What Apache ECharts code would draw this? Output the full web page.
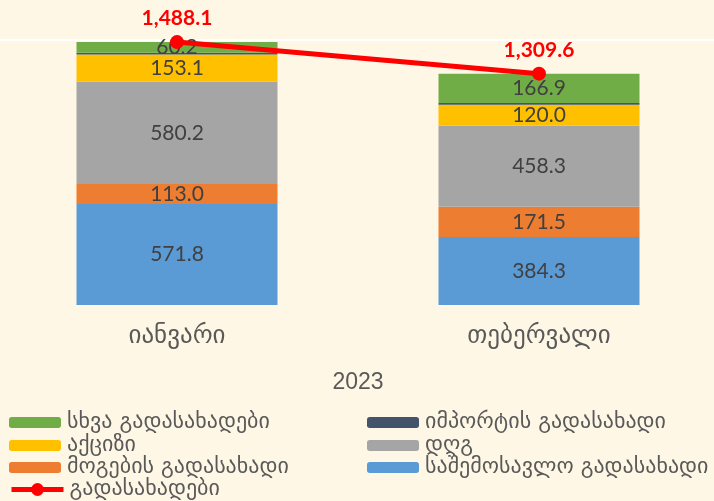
<!DOCTYPE html>
<html>
<head>
<meta charset="utf-8">
<script src="https://cdn.jsdelivr.net/npm/echarts@6/dist/echarts.min.js"></script>
<style>
  html, body { margin: 0; padding: 0; background: #FFF7E5; }
  #main { width: 714px; height: 501px; }
</style>
</head>
<body>
<div id="main"></div>
<script>
var months = ["იანვარი", "თებერვალი"];
var incomeTax = [571.8, 384.3];
var profitTax = [113.0, 171.5];
var vat = [580.2, 458.3];
var excise = [153.1, 120.0];
var importTax = [9.8, 8.6];
var otherTax = [60.2, 166.9];
var totalTax = [1488.1, 1309.6];

var geoFont = "DejaVu Sans";
var numFont = "Lato";

// stacked bar helper
function barSeries(name, data, color, showLabel) {
    return {
        name: name,
        type: "bar",
        stack: "taxes",
        barWidth: 201,
        data: data,
        itemStyle: { color: color },
        label: {
            show: showLabel,
            position: "inside",
            color: "#404040",
            fontSize: 21,
            fontFamily: numFont,
            formatter: function (p) { return p.value.toFixed(1); }
        }
    };
}

// one legend box per entry so the rows sit where the reference has them
function legendItem(entry, left, centerY, iconH) {
    return {
        left: left,
        top: centerY - 11,
        itemWidth: 52,
        itemHeight: iconH || 11,
        itemGap: 0,
        textStyle: { color: "#595959", fontSize: 22, fontFamily: geoFont, lineHeight: 22, padding: [0, 0, 0, 1] },
        data: [entry]
    };
}

var option = {
    backgroundColor: "#FFF7E5",
    animation: false,
    grid: { left: -4, right: -6, top: 40, bottom: 196, outerBoundsMode: "none" },
    xAxis: {
        type: "category",
        data: months,
        axisLine: { show: false },
        axisTick: { show: false },
        axisLabel: { color: "#595959", fontSize: 25, fontFamily: geoFont, margin: 19 },
        name: "2023",
        nameLocation: "middle",
        nameGap: 66,
        nameTextStyle: { color: "#595959", fontSize: 23, fontFamily: "Liberation Sans" }
    },
    yAxis: {
        type: "value",
        min: 0,
        max: 1500,
        interval: 1500,
        axisLine: { show: false },
        axisTick: { show: false },
        axisLabel: { show: false },
        splitLine: { show: true, showMinLine: false, lineStyle: { color: "#FFFFFF", width: 2 } }
    },
    legend: [
        legendItem("სხვა გადასახადები", 4, 417.5),
        legendItem("აქციზი", 4, 440.5),
        legendItem("მოგების გადასახადი", 4, 462.5),
        legendItem({ name: "გადასახადები", lineStyle: { width: 5 }, itemStyle: { color: "#FF0000" } }, 4, 484.5, 16),
        legendItem("იმპორტის გადასახადი", 362, 417.5),
        legendItem("დღგ", 362, 440.5),
        legendItem("საშემოსავლო გადასახადი", 362, 462.5)
    ],
    series: [
        barSeries("საშემოსავლო გადასახადი", incomeTax, "#5B9BD5", true),
        barSeries("მოგების გადასახადი", profitTax, "#ED7D31", true),
        barSeries("დღგ", vat, "#A5A5A5", true),
        barSeries("აქციზი", excise, "#FFC000", true),
        barSeries("იმპორტის გადასახადი", importTax, "#44546A", false),
        barSeries("სხვა გადასახადები", otherTax, "#70AD47", true),
        {
            name: "გადასახადები",
            type: "line",
            data: totalTax,
            symbol: "circle",
            symbolSize: 14,
            itemStyle: { color: "#FF0000" },
            lineStyle: { color: "#FF0000", width: 5 },
            z: 10,
            label: {
                show: true,
                position: "top",
                distance: 6,
                color: "#FF0000",
                fontSize: 21,
                fontWeight: "bold",
                fontFamily: numFont,
                formatter: function (p) {
                    return p.value.toLocaleString("en-US", { minimumFractionDigits: 1, maximumFractionDigits: 1 });
                }
            }
        }
    ]
};

var myChart = echarts.init(document.getElementById("main"));
myChart.setOption(option);
</script>
</body>
</html>
